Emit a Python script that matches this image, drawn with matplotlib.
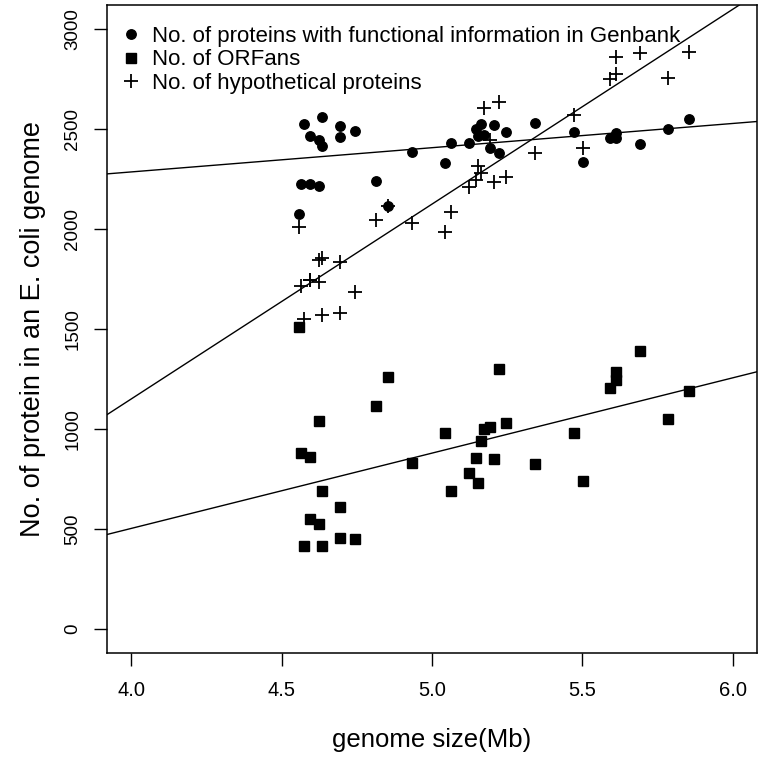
import matplotlib
matplotlib.use("Agg")
import matplotlib.pyplot as plt
import numpy as np

plt.rcParams['font.family'] = ['Liberation Sans', 'DejaVu Sans']

# genome size (Mb) of each E. coli genome
genome_size = [4.557, 4.565, 4.576, 4.595, 4.595, 4.626, 4.626, 4.635, 4.635,
               4.694, 4.694, 4.745, 4.814, 4.854, 4.934, 5.044, 5.064, 5.122,
               5.147, 5.153, 5.164, 5.173, 5.194, 5.205, 5.222, 5.245, 5.342,
               5.473, 5.502, 5.592, 5.613, 5.613, 5.690, 5.784, 5.853]

# proteins with functional information in Genbank
functional = [2073, 2223, 2523, 2467, 2227, 2445, 2215, 2558, 2415,
              2517, 2458, 2492, 2242, 2115, 2385, 2332, 2430, 2432,
              2498, 2465, 2525, 2470, 2403, 2520, 2382, 2483, 2528,
              2483, 2337, 2457, 2478, 2457, 2425, 2500, 2552]

# ORFans
orfans = [1512, 882, 417, 862, 548, 1042, 525, 688, 417,
          608, 453, 450, 1115, 1258, 828, 978, 688, 778,
          853, 728, 938, 998, 1008, 848, 1298, 1028, 825,
          982, 738, 1205, 1287, 1245, 1392, 1048, 1190]

# hypothetical proteins
hypothetical = [2012, 1717, 1548, 1745, 1745, 1733, 1845, 1853, 1570,
                1837, 1582, 1687, 2045, 2115, 2028, 1987, 2087, 2212,
                2245, 2315, 2282, 2603, 2445, 2237, 2637, 2262, 2378,
                2570, 2403, 2750, 2860, 2775, 2882, 2757, 2887]

labels = ['No. of proteins with functional information in Genbank',
          'No. of ORFans',
          'No. of hypothetical proteins']

x_ticks = [4.0, 4.5, 5.0, 5.5, 6.0]
y_ticks = [0, 500, 1000, 1500, 2000, 2500, 3000]

fig = plt.figure(figsize=(7.6, 7.58), dpi=100)
ax = fig.add_axes([107 / 760, 1 - 653 / 758, 650 / 760, 648 / 758])

x = np.array(genome_size)

# points
ax.plot(x, functional, linestyle='none', marker='o', ms=6.8, color='black',
        label=labels[0])
ax.plot(x, orfans, linestyle='none', marker='s', ms=6.8, color='black',
        label=labels[1])
ax.plot(x, hypothetical, linestyle='none', marker='+', ms=10.5, mew=1.3,
        color='black', label=labels[2])

# least squares lines, like abline(lm(y ~ x))
for series in (functional, orfans, hypothetical):
    b, a = np.polyfit(x, np.array(series), 1)
    ax.axline((4.0, a + b * 4.0), slope=b, color='black', lw=1)

ax.set_xlim(3.92, 6.08)
ax.set_ylim(-120, 3120)
ax.set_xticks(x_ticks)
ax.set_xticklabels([f'{t:.1f}' for t in x_ticks])
ax.set_yticks(y_ticks)
ax.set_yticklabels([str(t) for t in y_ticks])
plt.setp(ax.get_yticklabels(), rotation=90, va='center')

ax.tick_params(direction='out', length=9.5, width=1)
ax.tick_params(axis='x', labelsize=14.5, pad=11)
ax.tick_params(axis='y', labelsize=13.5, pad=9)
for sp in ax.spines.values():
    sp.set_linewidth(1.1)

ax.set_xlabel('genome size(Mb)', fontsize=18.5, labelpad=20)
ax.set_ylabel('No. of protein in an E. coli genome', fontsize=19.5, labelpad=13)

ax.legend(loc='upper left', bbox_to_anchor=(0.02, 0.968), frameon=False,
          fontsize=16, handlelength=1.0, handletextpad=0.45,
          labelspacing=0.12, borderpad=0, borderaxespad=0)

fig.savefig('out.png', dpi=100)
